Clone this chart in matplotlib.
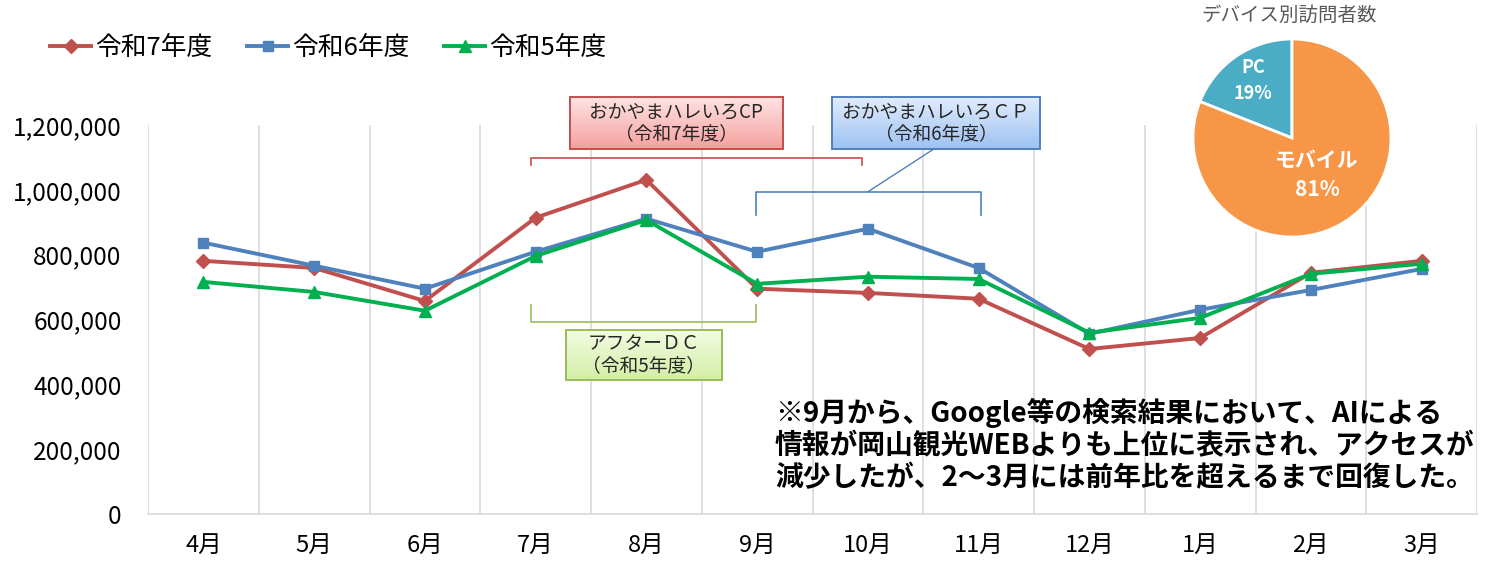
import numpy as np
import matplotlib.pyplot as plt
from matplotlib.patches import Rectangle
from matplotlib.colors import LinearSegmentedColormap

plt.rcParams['font.family'] = ['Noto Sans CJK JP', 'DejaVu Sans']

# データ
months = ['4月', '5月', '6月', '7月', '8月', '9月', '10月', '11月', '12月', '1月', '2月', '3月']
r7 = [781000, 759000, 657000, 914000, 1031000, 695000, 682000, 664000, 509000, 543000, 744000, 781000]
r6 = [837000, 766000, 695000, 809000, 911000, 809000, 880000, 759000, 556000, 630000, 691000, 756000]
r5 = [716000, 685000, 627000, 796000, 907000, 710000, 732000, 725000, 559000, 605000, 741000, 772000]
series_names = ['令和7年度', '令和6年度', '令和5年度']

device_labels = ['PC', 'モバイル']
device_share = [19, 81]

yticks = [0, 200000, 400000, 600000, 800000, 1000000, 1200000]

fig = plt.figure(figsize=(14.96, 5.66), dpi=100)
ax = fig.add_axes([148 / 1496, 1 - 514 / 566, (1477 - 148) / 1496, (514 - 125) / 566])

x = np.arange(len(months))
ax.plot(x, r7, color='#C0504D', lw=2.8, marker='D', ms=7, label=series_names[0], zorder=3)
ax.plot(x, r6, color='#4F81BD', lw=2.8, marker='s', ms=7.5, label=series_names[1], zorder=3)
ax.plot(x, r5, color='#00B050', lw=2.8, marker='^', ms=8.5, label=series_names[2], zorder=4)

ax.set_xticks(x)
ax.set_xticklabels(months, fontsize=17)
ax.set_xticks(np.arange(-0.5, len(months), 1.0), minor=True)
ax.set_yticks(yticks)
ax.set_yticklabels([f'{v:,}' for v in yticks], fontsize=17.5)
ax.tick_params(axis='x', which='both', length=0, pad=14)
ax.tick_params(axis='y', length=0, pad=19)
ax.grid(axis='x', which='minor', color='#D9D9D9', lw=1.2)
for s in ['top', 'right', 'left']:
    ax.spines[s].set_visible(False)
ax.spines['bottom'].set_color('#D9D9D9')
ax.spines['bottom'].set_linewidth(1.2)

fig.legend(loc='center left', bbox_to_anchor=(0.018, 0.915), ncol=3, frameon=False,
           fontsize=18.5, handlelength=1.6, handletextpad=0.15, columnspacing=1.35)


def box(x0, x1, y0, y1, text, top, bottom, edge):
    cmap = LinearSegmentedColormap.from_list('g', [bottom, top])
    grad = np.linspace(0, 1, 64).reshape(-1, 1)
    im = ax.imshow(grad, extent=[x0, x1, y0, y1], origin='lower', aspect='auto',
                   cmap=cmap, zorder=5, interpolation='bilinear')
    im.set_clip_on(False)
    ax.add_patch(Rectangle((x0, y0), x1 - x0, y1 - y0, facecolor='none', edgecolor=edge,
                           lw=1.4, clip_on=False, zorder=5.5))
    ax.text((x0 + x1) / 2, (y0 + y1) / 2, text, ha='center', va='center', fontsize=13.5,
            color='#262626', linespacing=1.1, zorder=6, clip_on=False)


def bracket(x0, x1, ybase, ytip, color):
    ax.plot([x0, x0, x1, x1], [ytip, ybase, ybase, ytip], color=color, lw=1.2,
            clip_on=False, zorder=5)


# 令和7年度 CP
box(3.31, 5.23, 1127000, 1287000, 'おかやまハレいろCP\n（令和7年度）', '#FFE3E3', '#F4A19F', '#C0504D')
bracket(2.96, 5.95, 1099000, 1077000, '#C0504D')

# 令和6年度 CP
box(5.68, 7.55, 1127000, 1287000, 'おかやまハレいろＣＰ\n（令和6年度）', '#E1ECFC', '#9EC2F2', '#4F81BD')
bracket(4.99, 7.02, 994000, 923000, '#4F81BD')
ax.plot([6.0, 6.6], [994000, 1127000], color='#4F81BD', lw=1.0, zorder=5, clip_on=False)

# 令和5年度 アフターDC
bracket(2.96, 4.99, 593000, 645000, '#9BBB59')
box(3.27, 4.68, 414000, 568000, 'アフターＤＣ\n（令和5年度）', '#F3FCE3', '#D3EEA5', '#9BBB59')

ax.set_xlim(-0.5, len(months) - 0.5)
ax.set_ylim(0, 1200000)

note = ('※9月から、Google等の検索結果において、AIによる\n'
        '情報が岡山観光WEBよりも上位に表示され、アクセスが\n'
        '減少したが、2～3月には前年比を超えるまで回復した。')
fig.text(775 / 1496, 1 - 445 / 566, note, ha='left', va='center', fontsize=20,
         fontweight='bold', color='black', linespacing=1.17)

# デバイス別訪問者数
pax = fig.add_axes([1192 / 1496, 1 - 238 / 566, 200 / 1496, 200 / 566])
wedges, _ = pax.pie(device_share, colors=['#4BACC6', '#F79646'], startangle=90,
                    counterclock=True, wedgeprops=dict(edgecolor='white', linewidth=2))
label_r = [0.7, 0.45]
label_fs = [13, 15]
for w, lab, pct, r, fs in zip(wedges, device_labels, device_share, label_r, label_fs):
    ang = np.deg2rad((w.theta1 + w.theta2) / 2)
    pax.text(r * np.cos(ang), r * np.sin(ang), f'{lab}\n{pct}%', ha='center', va='center',
             fontsize=fs, fontweight='bold', color='white', linespacing=1.45)
pax.set_xlim(-1.01, 1.01)
pax.set_ylim(-1.01, 1.01)
pax.set_aspect('equal')
fig.text(1289 / 1496, 1 - 15 / 566, 'デバイス別訪問者数', ha='center', va='center',
         fontsize=14, color='#595959')

fig.savefig('out.png', dpi=100)
